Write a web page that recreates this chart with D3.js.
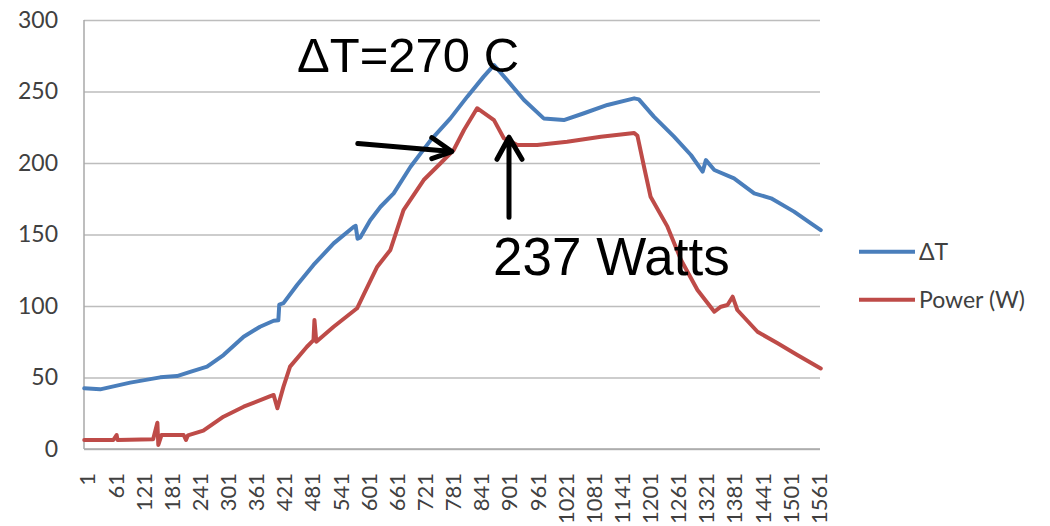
<!DOCTYPE html>
<html>
<head>
<meta charset="utf-8">
<script src="https://cdn.jsdelivr.net/npm/d3@7"></script>
<style>
  body { margin: 0; background: #fff; }
  .axis text { font-family: Lato, "Open Sans", sans-serif; fill: #404040; }
  .grid line { stroke: #bdbdbd; stroke-width: 1.5px; }
  .line { fill: none; stroke-width: 4px; stroke-linejoin: round; stroke-linecap: round; }
  .note { font-family: "Liberation Sans", Arial, sans-serif; fill: #000; }
  .arrow { fill: none; stroke: #000; stroke-width: 5px; stroke-linecap: round; stroke-linejoin: round; }
</style>
</head>
<body>
<div id="chart"></div>
<script>
// sample index (row number) and readings taken off the original chart
var dtIndex = [1, 35, 99, 163, 199, 227, 263, 298, 341, 376, 405, 415, 417, 426, 455, 490, 533, 576, 580, 584, 590, 611, 633, 661, 697, 740, 782, 818, 853, 875, 903, 939, 981, 1024, 1067, 1117, 1174, 1184, 1216, 1259, 1295, 1320, 1327, 1345, 1387, 1430, 1466, 1515, 1551, 1572];
var dtValues = [42.4, 41.7, 46.4, 50.1, 51, 54, 57.6, 65.7, 78.5, 85.5, 89.7, 90, 101, 102, 114.7, 128.7, 143.8, 155.4, 156, 147, 148, 160, 169.4, 178.8, 197.4, 216, 231.2, 246.4, 260.4, 268.5, 258, 244, 231.2, 230, 234.8, 240.6, 245.2, 244.5, 232.4, 218.4, 205.6, 193.9, 202, 195.1, 189.3, 178.8, 175.3, 166, 157.8, 153.1];

var powerIndex = [1, 63, 70, 72, 148, 157, 159, 166, 213, 218, 222, 255, 298, 341, 398, 405, 413, 426, 440, 476, 490, 492, 496, 533, 583, 597, 626, 654, 682, 725, 761, 789, 811, 839, 875, 896, 925, 967, 1031, 1103, 1174, 1181, 1195, 1209, 1245, 1274, 1309, 1345, 1359, 1373, 1384, 1394, 1437, 1480, 1522, 1572];
var powerValues = [6.3, 6.3, 9.8, 6.3, 6.8, 18.4, 2.8, 9.8, 9.8, 6.3, 9.5, 12.8, 22.6, 29.6, 37, 37.8, 28.5, 43.6, 57.6, 71.5, 76.2, 90.2, 75, 85.5, 98.4, 108, 127.5, 139.2, 167.1, 188.1, 199.8, 209.1, 223.1, 238.3, 230, 217.3, 212.6, 212.6, 214.9, 218.4, 221, 219, 197.4, 176.4, 155.5, 132.2, 111.2, 96, 99.5, 100.7, 106.5, 97.2, 82, 73.9, 65.7, 56.3];

var rowCount = 1572;
var xTickLabels = [1, 61, 121, 181, 241, 301, 361, 421, 481, 541, 601, 661, 721, 781, 841, 901, 961, 1021, 1081, 1141, 1201, 1261, 1321, 1381, 1441, 1501, 1561];
var yTickLabels = [0, 50, 100, 150, 200, 250, 300];
var seriesNames = ["\u0394T", "Power (W)"];
var seriesColors = ["#4a7ebb", "#be4b48"];

// annotations: [row, value] where the arrow points
var dtNote = "\u0394T=270 C";
var powerNote = "237 Watts";

var margin = { top: 20, right: 229, bottom: 77, left: 84 },
    width = 1050 - margin.left - margin.right,
    height = 526 - margin.top - margin.bottom;

var x = d3.scaleLinear().domain([0.5, rowCount + 0.5]).range([0, width]);
var y = d3.scaleLinear().domain([0, 300]).range([height, 0]);

var svg = d3.select("#chart").append("svg")
    .attr("width", 1050)
    .attr("height", 526)
    .append("g")
    .attr("transform", "translate(" + margin.left + "," + margin.top + ")");

// horizontal gridlines
svg.append("g")
    .attr("class", "grid")
    .call(d3.axisLeft(y).tickValues(yTickLabels).tickSize(-(width - 1)).tickFormat(""))
    .call(function (g) { g.select(".domain").remove(); });

// axis lines
svg.append("line")
    .attr("x1", 0).attr("x2", 0).attr("y1", 0).attr("y2", height)
    .attr("stroke", "#a8a8a8").attr("stroke-width", 1.5);
svg.append("line")
    .attr("x1", 0).attr("x2", width - 1).attr("y1", height).attr("y2", height)
    .attr("stroke", "#a8a8a8").attr("stroke-width", 1.5);

// y labels
svg.append("g")
    .attr("class", "axis")
    .call(d3.axisLeft(y).tickValues(yTickLabels).tickSize(0).tickPadding(26))
    .call(function (g) { g.select(".domain").remove(); })
    .selectAll("text")
    .style("font-size", "23px");

// x labels, turned on their side
svg.append("g")
    .attr("class", "axis")
    .attr("transform", "translate(0," + height + ")")
    .call(d3.axisBottom(x).tickValues(xTickLabels).tickSize(0).tickFormat(d3.format("d")))
    .call(function (g) { g.select(".domain").remove(); })
    .selectAll("text")
    .style("font-size", "22px")
    .style("text-anchor", "end")
    .attr("x", -24)
    .attr("y", 3)
    .attr("dy", "0.35em")
    .attr("transform", "rotate(-90)");

var valueline = d3.line()
    .x(function (d) { return x(d[0]); })
    .y(function (d) { return y(d[1]); });

var dtData = d3.zip(dtIndex, dtValues);
var powerData = d3.zip(powerIndex, powerValues);

svg.append("path")
    .data([dtData])
    .attr("class", "line")
    .attr("stroke", seriesColors[0])
    .attr("d", valueline);

svg.append("path")
    .data([powerData])
    .attr("class", "line")
    .attr("stroke", seriesColors[1])
    .attr("d", valueline);

// legend
var legend = svg.append("g")
    .attr("transform", "translate(" + (width + 38) + "," + y(138) + ")");
seriesNames.forEach(function (name, i) {
    legend.append("line")
        .attr("x1", 0).attr("x2", 56)
        .attr("y1", i * 48).attr("y2", i * 48)
        .attr("stroke", seriesColors[i])
        .attr("stroke-width", 4);
    legend.append("text")
        .attr("class", "axis")
        .attr("x", 60)
        .attr("y", i * 48)
        .attr("dy", "0.35em")
        .style("font-family", "Lato, sans-serif")
        .style("font-size", "23px")
        .style("fill", "#404040")
        .text(name);
});

// annotations
svg.append("text")
    .attr("class", "note")
    .attr("x", x(455))
    .attr("y", y(263.5))
    .style("font-size", "49px")
    .text(dtNote);

svg.append("text")
    .attr("class", "note")
    .attr("x", x(873))
    .attr("y", y(121.7))
    .style("font-size", "53px")
    .text(powerNote);

// arrow pointing at the power curve from the left
var tip1 = [x(785), y(208)];
svg.append("path")
    .attr("class", "arrow")
    .attr("d", "M" + (tip1[0] - 94) + "," + (tip1[1] - 8) + "L" + tip1[0] + "," + tip1[1]
        + "M" + (tip1[0] - 20) + "," + (tip1[1] - 14) + "L" + tip1[0] + "," + tip1[1]
        + "L" + (tip1[0] - 20) + "," + (tip1[1] + 7));

// arrow pointing up at the power curve
var tip2 = [x(907), y(218)];
svg.append("path")
    .attr("class", "arrow")
    .attr("d", "M" + tip2[0] + "," + (tip2[1] + 80) + "L" + tip2[0] + "," + tip2[1]
        + "M" + (tip2[0] - 12) + "," + (tip2[1] + 22) + "L" + tip2[0] + "," + tip2[1]
        + "L" + (tip2[0] + 13) + "," + (tip2[1] + 22));
</script>
</body>
</html>
